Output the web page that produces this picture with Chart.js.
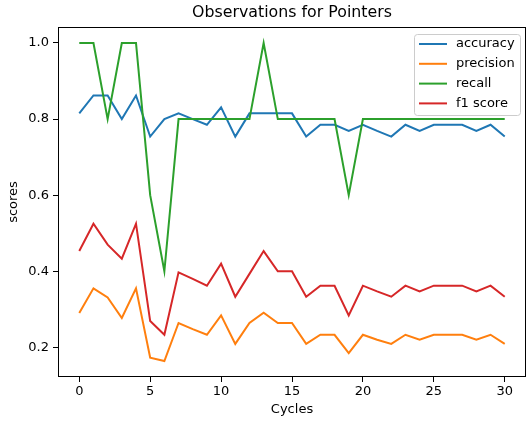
<!DOCTYPE html>
<html>
<head>
<meta charset="utf-8">
<script src="https://cdn.jsdelivr.net/npm/chart.js@4"></script>
<style>
  body { margin: 0; background: #fff; }
  #wrap { width: 527px; height: 423px; }
</style>
</head>
<body>
<div id="wrap"><canvas id="chart" width="527" height="423"></canvas></div>
<script>
// data
const cycles = [0, 1, 2, 3, 4, 5, 6, 7, 8, 9, 10, 11, 12, 13, 14, 15, 16, 17, 18, 19, 20, 21, 22, 23, 24, 25, 26, 27, 28, 29, 30];
const accuracy = [0.815, 0.862, 0.862, 0.800, 0.862, 0.754, 0.800, 0.815, 0.800, 0.785, 0.831, 0.754, 0.815, 0.815, 0.815, 0.815, 0.754, 0.785, 0.785, 0.769, 0.785, 0.769, 0.754, 0.785, 0.769, 0.785, 0.785, 0.785, 0.769, 0.785, 0.754];
const precision = [0.290, 0.355, 0.331, 0.277, 0.355, 0.173, 0.164, 0.264, 0.248, 0.233, 0.284, 0.209, 0.264, 0.291, 0.264, 0.264, 0.209, 0.233, 0.233, 0.185, 0.233, 0.220, 0.209, 0.233, 0.220, 0.233, 0.233, 0.233, 0.220, 0.233, 0.209];
const recall = [1.0, 1.0, 0.8, 1.0, 1.0, 0.6, 0.4, 0.8, 0.8, 0.8, 0.8, 0.8, 0.8, 1.0, 0.8, 0.8, 0.8, 0.8, 0.8, 0.6, 0.8, 0.8, 0.8, 0.8, 0.8, 0.8, 0.8, 0.8, 0.8, 0.8, 0.8];
const f1score = [0.453, 0.525, 0.470, 0.433, 0.525, 0.269, 0.233, 0.397, 0.380, 0.362, 0.420, 0.333, 0.393, 0.453, 0.400, 0.400, 0.333, 0.362, 0.362, 0.284, 0.362, 0.347, 0.333, 0.362, 0.347, 0.362, 0.362, 0.362, 0.347, 0.362, 0.333];

const seriesNames = ['accuracy', 'precision', 'recall', 'f1 score'];
const seriesColors = ['#1f77b4', '#ff7f0e', '#2ca02c', '#d62728'];
const xTicks = [0, 5, 10, 15, 20, 25, 30];
const yTicks = [0.2, 0.4, 0.6, 0.8, 1.0];

const FONT = "'DejaVu Sans', sans-serif";

function toPoints(values) {
  return cycles.map((c, i) => ({ x: c, y: values[i] }));
}

// title over the axes, framed box and legend inside the plot like matplotlib
const decorations = {
  id: 'decorations',
  afterDraw(chart) {
    const ctx = chart.ctx;
    const a = chart.chartArea;
    ctx.save();
    ctx.strokeStyle = '#000';
    ctx.lineWidth = 1;
    ctx.strokeRect(a.left + 0.5, a.top + 0.5, a.right - a.left - 1, a.bottom - a.top - 1);

    ctx.fillStyle = '#000';
    ctx.font = '15.8px ' + FONT;
    ctx.textAlign = 'center';
    ctx.textBaseline = 'middle';
    ctx.fillText('Observations for Pointers', (a.left + a.right) / 2, 13);

    // legend box
    const bx = 414.5, by = 34.5, bw = 106, bh = 81;
    ctx.fillStyle = 'rgba(255,255,255,0.8)';
    ctx.strokeStyle = '#cccccc';
    ctx.beginPath();
    ctx.roundRect(bx, by, bw, bh, 3);
    ctx.fill();
    ctx.stroke();

    ctx.font = '13px ' + FONT;
    ctx.textAlign = 'left';
    chart.data.datasets.forEach((ds, i) => {
      const y = 44 + i * 19.8;
      ctx.strokeStyle = ds.borderColor;
      ctx.lineWidth = 2;
      ctx.beginPath();
      ctx.moveTo(419, y);
      ctx.lineTo(447, y);
      ctx.stroke();
      ctx.fillStyle = '#000';
      ctx.fillText(ds.label, 456, y);
    });
    ctx.restore();
  }
};

const seriesValues = [accuracy, precision, recall, f1score];

new Chart(document.getElementById('chart'), {
  type: 'line',
  data: {
    datasets: seriesValues.map((vals, i) => ({
      label: seriesNames[i],
      data: toPoints(vals),
      borderColor: seriesColors[i],
      backgroundColor: seriesColors[i],
      borderWidth: 2,
      pointRadius: 0,
      tension: 0,
      fill: false,
      order: 4 - i
    }))
  },
  options: {
    responsive: false,
    animation: false,
    layout: { padding: { top: 27, right: 1, left: 0, bottom: 0 } },
    plugins: {
      legend: { display: false },
      title: { display: false },
      tooltip: { enabled: false }
    },
    scales: {
      x: {
        type: 'linear',
        min: -1.5,
        max: 31.5,
        afterBuildTicks: (scale) => { scale.ticks = xTicks.map(v => ({ value: v })); },
        afterFit: (scale) => { scale.height = 46; },
        grid: { display: true, drawOnChartArea: false, drawTicks: true, tickLength: 5, color: '#000' },
        border: { display: false },
        ticks: { color: '#000', font: { family: FONT, size: 13 }, padding: 2, maxRotation: 0 },
        title: { display: true, text: 'Cycles', color: '#000', font: { family: FONT, size: 13 }, padding: { top: 0, bottom: 6 } }
      },
      y: {
        min: 0.122,
        max: 1.042,
        afterBuildTicks: (scale) => { scale.ticks = yTicks.map(v => ({ value: v })); },
        afterFit: (scale) => { scale.width = 58; },
        grid: { display: true, drawOnChartArea: false, drawTicks: true, tickLength: 5, color: '#000' },
        border: { display: false },
        ticks: { color: '#000', font: { family: FONT, size: 13 }, padding: 4, callback: (v) => v.toFixed(1) },
        title: { display: true, text: 'scores', color: '#000', font: { family: FONT, size: 13 }, padding: { top: 6, bottom: 0 } }
      }
    }
  },
  plugins: [decorations]
});
</script>
</body>
</html>
